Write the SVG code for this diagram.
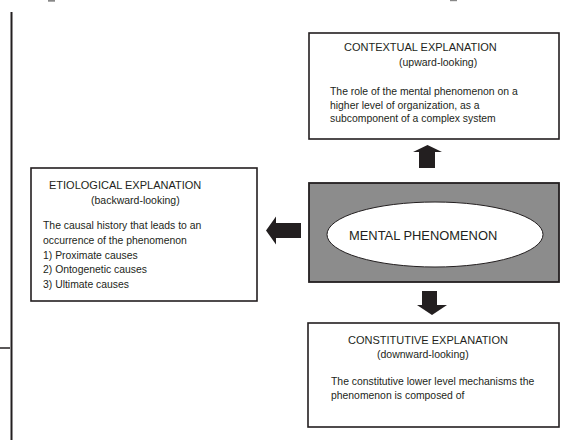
<svg xmlns="http://www.w3.org/2000/svg" width="567" height="440" viewBox="0 0 567 440">
<style>
.box{fill:#fff;stroke:#231f20;stroke-width:1.6}
.t{font-family:"Liberation Sans",Arial,sans-serif;fill:#231f20}
.h{font-size:11px}
.s{font-size:10.5px}
.b{font-size:10.4px}
.arr{fill:#231f20}
</style>
<rect width="567" height="440" fill="#fff"/>
<g id="frame">
<rect x="48" y="0" width="7" height="1.7" fill="#888"/>
<rect x="450" y="0" width="7" height="1.2" fill="#888"/>
<line x1="11.5" y1="12" x2="11.5" y2="440" stroke="#231f20" stroke-width="2"/>
<line x1="0" y1="348" x2="10" y2="348" stroke="#231f20" stroke-width="1.5"/>
</g>
<g id="contextual">
<rect class="box" x="309" y="33" width="250" height="106"/>
<text class="t h" x="344" y="51">CONTEXTUAL EXPLANATION</text>
<text class="t s" x="399" y="66">(upward-looking)</text>
<text class="t b" x="330" y="95">The role of the mental phenomenon on a</text>
<text class="t b" x="330" y="108.5">higher level of organization, as a</text>
<text class="t b" x="330" y="122">subcomponent of a complex system</text>
</g>
<g id="mental">
<rect x="309" y="183" width="250" height="99" fill="#8c8c8c" stroke="#231f20" stroke-width="1.8"/>
<ellipse cx="435" cy="234.5" rx="108" ry="32.5" fill="#fff" stroke="#231f20" stroke-width="1"/>
<text class="t" x="349" y="240" font-size="12.9">MENTAL PHENOMENON</text>
</g>
<g id="etiological">
<rect class="box" x="31" y="168" width="226" height="133"/>
<text class="t h" x="49" y="189">ETIOLOGICAL EXPLANATION</text>
<text class="t s" x="91" y="204">(backward-looking)</text>
<text class="t b" x="43" y="229">The causal history that leads to an</text>
<text class="t b" x="43" y="244">occurrence of the phenomenon</text>
<text class="t b" x="43" y="258.5">1) Proximate causes</text>
<text class="t b" x="43" y="273">2) Ontogenetic causes</text>
<text class="t b" x="43" y="287.5">3) Ultimate causes</text>
</g>
<g id="constitutive">
<rect class="box" x="308" y="323" width="251" height="104"/>
<text class="t h" x="348" y="344">CONSTITUTIVE EXPLANATION</text>
<text class="t s" x="377" y="358">(downward-looking)</text>
<text class="t b" x="331" y="385">The constitutive lower level mechanisms the</text>
<text class="t b" x="331" y="399">phenomenon is composed of</text>
</g>
<g id="connectors">
<polygon class="arr" points="427.5,145 442,152 435,152 435,168 419,168 419,152 413,152"/>
<polygon class="arr" points="266,230.5 276,216.5 276,223 301,223 301,238 276,238 276,244.5"/>
<polygon class="arr" points="432,315 447,305 437,305 437,291 422,291 422,305 417,305"/>
</g>
</svg>
